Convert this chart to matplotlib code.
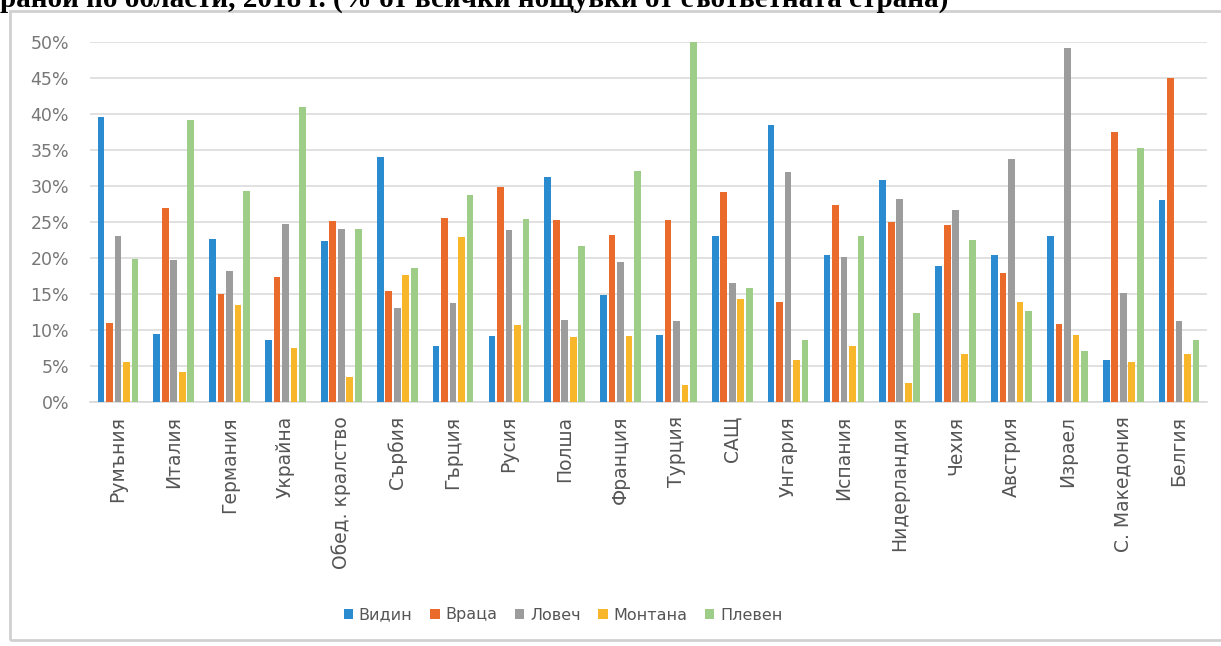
import matplotlib.pyplot as plt
from matplotlib.patches import Rectangle
from matplotlib.ticker import PercentFormatter
import numpy as np

# Countries (x categories)
countries = ['Румъния', 'Италия', 'Германия', 'Украйна', 'Обед. кралство', 'Сърбия',
             'Гърция', 'Русия', 'Полша', 'Франция', 'Турция', 'САЩ', 'Унгария',
             'Испания', 'Нидерландия', 'Чехия', 'Австрия', 'Израел', 'С. Македония', 'Белгия']

# Share of nights by region (%)
vidin = [39.6, 9.4, 22.6, 8.6, 22.4, 34.0, 7.8, 9.2, 31.2, 14.9,
         9.3, 23.1, 38.5, 20.4, 30.9, 18.9, 20.4, 23.0, 5.9, 28.1]
vratsa = [11.0, 26.9, 15.0, 17.4, 25.1, 15.4, 25.6, 29.9, 25.3, 23.2,
          25.3, 29.1, 13.9, 27.3, 25.0, 24.6, 17.9, 10.9, 37.5, 45.0]
lovech = [23.0, 19.7, 18.2, 24.7, 24.0, 13.0, 13.8, 23.9, 11.4, 19.4,
          11.2, 16.5, 32.0, 20.2, 28.2, 26.7, 33.8, 49.2, 15.1, 11.2]
montana = [5.5, 4.1, 13.5, 7.5, 3.5, 17.7, 22.9, 10.7, 9.0, 9.1,
           2.3, 14.3, 5.8, 7.8, 2.7, 6.6, 13.9, 9.3, 5.5, 6.6]
pleven = [19.8, 39.2, 29.3, 41.0, 24.0, 18.6, 28.8, 25.4, 21.7, 32.1,
          50.0, 15.8, 8.6, 23.1, 12.3, 22.5, 12.7, 7.1, 35.3, 8.6]

series = [('Видин', vidin, '#2a8bd0'),
          ('Враца', vratsa, '#ea6a2c'),
          ('Ловеч', lovech, '#9c9c9c'),
          ('Монтана', montana, '#f8b62a'),
          ('Плевен', pleven, '#9dcd86')]

fig = plt.figure(figsize=(12.21, 6.46), dpi=100)
W, H = 1221, 646

# chart frame
fig.patches.append(Rectangle((10 / W, 1 - 640 / H), 1.0, (640 - 11) / H,
                             transform=fig.transFigure, facecolor='none',
                             edgecolor='#d0d0d0', linewidth=2.0, zorder=0))

# title, cut off at the top of the page as in the source
fig.text(0, 1 - 7 / H, 'ранои по области, 2018 г. (% от всички нощувки от съответната страна)',
         fontsize=21, fontweight='bold', family='Liberation Serif', va='baseline', ha='left')

ax = fig.add_axes([90 / W, 1 - 402 / H, (1207 - 90) / W, 360 / H])
ax.set_facecolor('none')

x = np.arange(len(countries))
step = 0.152
for i, (name, vals, col) in enumerate(series):
    ax.bar(x + (i - 2) * step, np.array(vals) / 100, width=0.12, color=col,
           label=name, zorder=3)

ax.set_ylim(0, 0.5)
ax.set_xlim(-0.5, len(countries) - 0.5)
ax.set_yticks(np.arange(0, 0.51, 0.05))
ax.yaxis.set_major_formatter(PercentFormatter(1.0, decimals=0))
ax.grid(axis='y', color='#dcdcdc', linewidth=1.2, zorder=0)
for s in ['top', 'right', 'left']:
    ax.spines[s].set_visible(False)
ax.spines['bottom'].set_color('#d9d9d9')
ax.spines['bottom'].set_linewidth(1.2)
ax.tick_params(axis='y', length=0, pad=15, labelsize=12.5, labelcolor='#777777')
ax.tick_params(axis='x', length=0, pad=10, labelsize=13.5, labelcolor='#555555')
ax.set_xticks(x)
ax.set_xticklabels(countries, rotation=90)

fig.legend(loc='center', bbox_to_anchor=(563 / W, 1 - 615 / H), ncol=5, frameon=False,
           fontsize=11.5, handlelength=0.6, handleheight=0.6, handletextpad=0.35,
           columnspacing=1.1, labelcolor='#555555')

plt.savefig('out.png', dpi=100)
